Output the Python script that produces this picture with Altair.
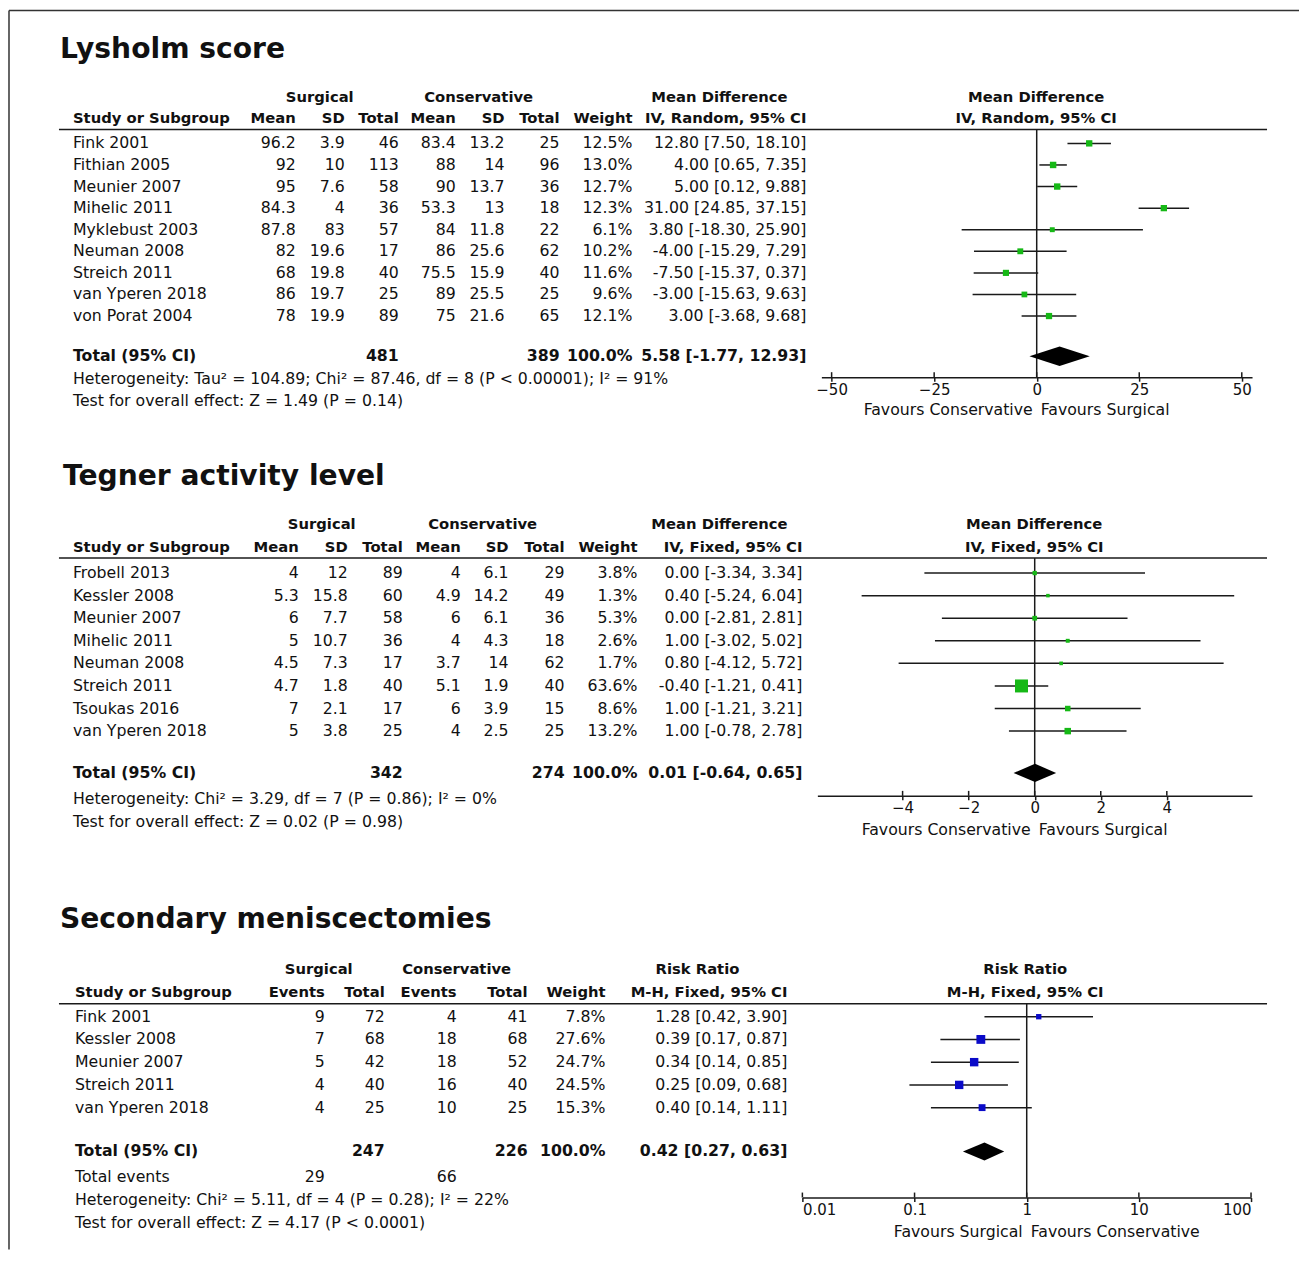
import altair as alt
import pandas as pd

FONT = "DejaVu Sans"
INK = "#111111"
LINE = "#1a1a1a"
GREEN = "#16b816"
BLUE = "#0a0ac8"
W = 1292
ROWFS = 15.75
H1, H2, H3 = 432, 430, 380

# ---------------- Lysholm score ----------------
ly_study = ["Fink 2001", "Fithian 2005", "Meunier 2007", "Mihelic 2011", "Myklebust 2003",
            "Neuman 2008", "Streich 2011", "van Yperen 2018", "von Porat 2004"]
ly_s_mean = ["96.2", "92", "95", "84.3", "87.8", "82", "68", "86", "78"]
ly_s_sd = ["3.9", "10", "7.6", "4", "83", "19.6", "19.8", "19.7", "19.9"]
ly_s_n = ["46", "113", "58", "36", "57", "17", "40", "25", "89"]
ly_c_mean = ["83.4", "88", "90", "53.3", "84", "86", "75.5", "89", "75"]
ly_c_sd = ["13.2", "14", "13.7", "13", "11.8", "25.6", "15.9", "25.5", "21.6"]
ly_c_n = ["25", "96", "36", "18", "22", "62", "40", "25", "65"]
ly_weight = [12.5, 13.0, 12.7, 12.3, 6.1, 10.2, 11.6, 9.6, 12.1]
ly_est = [12.80, 4.00, 5.00, 31.00, 3.80, -4.00, -7.50, -3.00, 3.00]
ly_lo = [7.50, 0.65, 0.12, 24.85, -18.30, -15.29, -15.37, -15.63, -3.68]
ly_hi = [18.10, 7.35, 9.88, 37.15, 25.90, 7.29, 0.37, 9.63, 9.68]
ly_total = [5.58, -1.77, 12.93]
ly_total_n = ["481", "389"]
ly_ticks = [-50, -25, 0, 25, 50]

# ---------------- Tegner activity level ----------------
tg_study = ["Frobell 2013", "Kessler 2008", "Meunier 2007", "Mihelic 2011", "Neuman 2008",
            "Streich 2011", "Tsoukas 2016", "van Yperen 2018"]
tg_s_mean = ["4", "5.3", "6", "5", "4.5", "4.7", "7", "5"]
tg_s_sd = ["12", "15.8", "7.7", "10.7", "7.3", "1.8", "2.1", "3.8"]
tg_s_n = ["89", "60", "58", "36", "17", "40", "17", "25"]
tg_c_mean = ["4", "4.9", "6", "4", "3.7", "5.1", "6", "4"]
tg_c_sd = ["6.1", "14.2", "6.1", "4.3", "14", "1.9", "3.9", "2.5"]
tg_c_n = ["29", "49", "36", "18", "62", "40", "15", "25"]
tg_weight = [3.8, 1.3, 5.3, 2.6, 1.7, 63.6, 8.6, 13.2]
tg_est = [0.00, 0.40, 0.00, 1.00, 0.80, -0.40, 1.00, 1.00]
tg_lo = [-3.34, -5.24, -2.81, -3.02, -4.12, -1.21, -1.21, -0.78]
tg_hi = [3.34, 6.04, 2.81, 5.02, 5.72, 0.41, 3.21, 2.78]
tg_total = [0.01, -0.64, 0.65]
tg_total_n = ["342", "274"]
tg_ticks = [-4, -2, 0, 2, 4]

# ---------------- Secondary meniscectomies ----------------
sm_study = ["Fink 2001", "Kessler 2008", "Meunier 2007", "Streich 2011", "van Yperen 2018"]
sm_s_ev = ["9", "7", "5", "4", "4"]
sm_s_n = ["72", "68", "42", "40", "25"]
sm_c_ev = ["4", "18", "18", "16", "10"]
sm_c_n = ["41", "68", "52", "40", "25"]
sm_weight = [7.8, 27.6, 24.7, 24.5, 15.3]
sm_est = [1.28, 0.39, 0.34, 0.25, 0.40]
sm_lo = [0.42, 0.17, 0.14, 0.09, 0.14]
sm_hi = [3.90, 0.87, 0.85, 0.68, 1.11]
sm_total = [0.42, 0.27, 0.63]
sm_total_n = ["247", "226"]
sm_total_events = ["29", "66"]
sm_ticks = [0.01, 0.1, 1, 10, 100]


def fmt_ci(e, l, h):
    return f"{e:.2f} [{l:.2f}, {h:.2f}]"


def stext(text, x, y, align="left", size=ROWFS, bold=False, baseline="middle"):
    return alt.Chart(pd.DataFrame({"t": [text]})).mark_text(
        align=align, baseline=baseline, font=FONT, fontSize=size,
        fontWeight="bold" if bold else "normal", color=INK
    ).encode(x=alt.value(x), y=alt.value(y), text=alt.Text("t:N"))


def prule(x, x2, y, y2, width=1.5, color=LINE):
    return alt.Chart(pd.DataFrame({"a": [0]})).mark_rule(color=color, strokeWidth=width).encode(
        x=alt.value(x), x2=alt.value(x2), y=alt.value(y), y2=alt.value(y2))


def panel(cfg):
    H = cfg["H"]
    ys = alt.Scale(domain=[0, 10], range=[cfg["row0"], cfg["row0"] + 10 * cfg["step"]],
                   nice=False, zero=False)
    xs = cfg["xscale"]
    ax = alt.Axis(orient="bottom", offset=cfg["axis_y"] - H, values=cfg["ticks"],
                  title="", grid=False, domainColor=LINE, domainWidth=1.5,
                  tickColor=LINE, tickWidth=1.5, tickSize=4, labelFont=FONT,
                  labelFontSize=15, labelColor=INK, labelPadding=1,
                  labelFlush=cfg["flush"], format=cfg["fmt"])

    def Y(f):
        return alt.Y(f, type="quantitative", scale=ys, axis=None)

    def X(f):
        return alt.X(f, type="quantitative", scale=xs, axis=ax)

    n = len(cfg["study"])
    df = pd.DataFrame({"row": list(range(n)), "study": cfg["study"],
                       "w": cfg["weight"], "est": cfg["est"], "lo": cfg["lo"], "hi": cfg["hi"]})
    df["wt"] = [f"{v:.1f}%" for v in cfg["weight"]]
    df["ci"] = [fmt_ci(e, l, h) for e, l, h in zip(cfg["est"], cfg["lo"], cfg["hi"])]
    for i, col in enumerate(cfg["cols"]):
        df[f"c{i}"] = col

    layers = []
    # outer frame (top and left edges) drawn once, in the first panel
    if cfg.get("frame"):
        layers.append(prule(1, W, 2, 2, width=1.5, color="#333"))
        layers.append(prule(1, 1, 2, H1 + H2 + H3, width=1.5, color="#333"))

    # title
    layers.append(stext(cfg["title"], cfg["title_x"], cfg["title_y"], size=28.2, bold=True,
                        baseline="alphabetic"))
    # headers
    for txt, x, al, line in cfg["headers"]:
        y = cfg["h1"] if line == 1 else cfg["h2"]
        layers.append(stext(txt, x, y, align=al, size=14.8, bold=True))
    layers.append(prule(cfg["line_x0"], cfg["line_x1"], cfg["line_y"], cfg["line_y"]))

    # study table
    base = alt.Chart(df)
    txt_kw = dict(baseline="middle", font=FONT, fontSize=ROWFS, color=INK)
    layers.append(base.mark_text(align="left", **txt_kw).encode(
        x=alt.value(cfg["study_x"]), y=Y("row"), text="study:N"))
    for i, cx in enumerate(cfg["col_x"]):
        layers.append(base.mark_text(align="right", **txt_kw).encode(
            x=alt.value(cx), y=Y("row"), text=f"c{i}:N"))
    layers.append(base.mark_text(align="right", **txt_kw).encode(
        x=alt.value(cfg["wt_x"]), y=Y("row"), text="wt:N"))
    layers.append(base.mark_text(align="right", **txt_kw).encode(
        x=alt.value(cfg["ci_x"]), y=Y("row"), text="ci:N"))

    # total row
    tr = cfg["total_row"]
    ty = cfg["row0"] + tr * cfg["step"]
    layers.append(stext("Total (95% CI)", cfg["study_x"], ty, bold=True))
    layers.append(stext(cfg["total_n"][0], cfg["tot_nx"][0], ty, align="right", bold=True))
    layers.append(stext(cfg["total_n"][1], cfg["tot_nx"][1], ty, align="right", bold=True))
    layers.append(stext("100.0%", cfg["wt_x"], ty, align="right", bold=True))
    t = cfg["total"]
    layers.append(stext(fmt_ci(t[0], t[1], t[2]), cfg["ci_x"], ty, align="right", bold=True))

    for txt, y, extra in cfg["notes"]:
        layers.append(stext(txt, cfg["study_x"], y))
        for etxt, ex in extra:
            layers.append(stext(etxt, ex, y, align="right"))

    # forest
    null_df = pd.DataFrame({"x": [cfg["null"]]})
    layers.append(alt.Chart(null_df).mark_rule(color=LINE, strokeWidth=1.5).encode(
        x=X("x"), y=alt.value(cfg["line_y"]), y2=alt.value(cfg["axis_y"])))
    layers.append(base.mark_rule(color=LINE, strokeWidth=1.5).encode(
        x=X("lo"), x2=alt.X2("hi"), y=Y("row")))
    layers.append(base.mark_square(filled=True, opacity=1, color=cfg["color"]).encode(
        x=X("est"), y=Y("row"),
        size=alt.Size("w:Q", scale=alt.Scale(domain=[0, 100], range=[9, cfg["K"]]), legend=None)))
    hh = cfg["dh"]
    dia = pd.DataFrame({"x": [t[1], t[0], t[2]],
                        "yt": [tr, tr - hh, tr], "yb": [tr, tr + hh, tr]})
    layers.append(alt.Chart(dia).mark_area(color="black", opacity=1, orient="vertical").encode(
        x=X("x"), y=Y("yt"), y2=alt.Y2("yb")))
    tick_df = pd.DataFrame({"v": cfg["ticks"]})
    layers.append(alt.Chart(tick_df).mark_rule(color=LINE, strokeWidth=1.5).encode(
        x=X("v"), y=alt.value(cfg["axis_y"] - 5), y2=alt.value(cfg["axis_y"])))
    fav = pd.DataFrame({"x": [cfg["null"]], "l": [cfg["fav"][0]], "r": [cfg["fav"][1]]})
    layers.append(alt.Chart(fav).mark_text(align="right", dx=-4, **txt_kw).encode(
        x=X("x"), y=alt.value(cfg["fav_y"]), text="l:N"))
    layers.append(alt.Chart(fav).mark_text(align="left", dx=4, **txt_kw).encode(
        x=X("x"), y=alt.value(cfg["fav_y"]), text="r:N"))

    return alt.layer(*layers).properties(width=W, height=H)


p1 = panel(dict(
    H=H1, frame=True, title="Lysholm score", title_x=52, title_y=50,
    h1=90, h2=111, line_y=121, line_x0=51, line_x1=1260,
    row0=135, step=21.6, total_row=9.86, dh=0.45,
    study=ly_study, weight=ly_weight, est=ly_est, lo=ly_lo, hi=ly_hi,
    cols=[ly_s_mean, ly_s_sd, ly_s_n, ly_c_mean, ly_c_sd, ly_c_n],
    study_x=65, col_x=[288, 337, 391, 448, 497, 552], wt_x=625, ci_x=799,
    tot_nx=[391, 552], total=ly_total, total_n=ly_total_n,
    headers=[("Surgical", 312, "center", 1), ("Conservative", 471, "center", 1),
             ("Mean Difference", 712, "center", 1), ("Mean Difference", 1029, "center", 1),
             ("Study or Subgroup", 65, "left", 2), ("Mean", 288, "right", 2),
             ("SD", 337, "right", 2), ("Total", 391, "right", 2), ("Mean", 448, "right", 2),
             ("SD", 497, "right", 2), ("Total", 552, "right", 2), ("Weight", 625, "right", 2),
             ("IV, Random, 95% CI", 799, "right", 2), ("IV, Random, 95% CI", 1029, "center", 2)],
    notes=[("Heterogeneity: Tau² = 104.89; Chi² = 87.46, df = 8 (P < 0.00001); I² = 91%", 371, []),
           ("Test for overall effect: Z = 1.49 (P = 0.14)", 393, [])],
    xscale=alt.Scale(domain=[-52.5, 52.5], range=[814, 1245], nice=False, zero=False),
    ticks=ly_ticks, flush=False, fmt="d", axis_y=369, null=0,
    color=GREEN, K=260, fav=["Favours Conservative", "Favours Surgical"], fav_y=402,
))

p2 = panel(dict(
    H=H2, frame=False, title="Tegner activity level", title_x=55, title_y=45,
    h1=85, h2=108, line_y=118, line_x0=51, line_x1=1260,
    row0=133, step=22.6, total_row=8.85, dh=0.4,
    study=tg_study, weight=tg_weight, est=tg_est, lo=tg_lo, hi=tg_hi,
    cols=[tg_s_mean, tg_s_sd, tg_s_n, tg_c_mean, tg_c_sd, tg_c_n],
    study_x=65, col_x=[291, 340, 395, 453, 501, 557], wt_x=630, ci_x=795,
    tot_nx=[395, 557], total=tg_total, total_n=tg_total_n,
    headers=[("Surgical", 314, "center", 1), ("Conservative", 475, "center", 1),
             ("Mean Difference", 712, "center", 1), ("Mean Difference", 1027, "center", 1),
             ("Study or Subgroup", 65, "left", 2), ("Mean", 291, "right", 2),
             ("SD", 340, "right", 2), ("Total", 395, "right", 2), ("Mean", 453, "right", 2),
             ("SD", 501, "right", 2), ("Total", 557, "right", 2), ("Weight", 630, "right", 2),
             ("IV, Fixed, 95% CI", 795, "right", 2), ("IV, Fixed, 95% CI", 1027, "center", 2)],
    notes=[("Heterogeneity: Chi² = 3.29, df = 7 (P = 0.86); I² = 0%", 359, []),
           ("Test for overall effect: Z = 0.02 (P = 0.98)", 382, [])],
    xscale=alt.Scale(domain=[-6.58, 6.58], range=[810, 1245], nice=False, zero=False),
    ticks=tg_ticks, flush=False, fmt="d", axis_y=356, null=0,
    color=GREEN, K=360, fav=["Favours Conservative", "Favours Surgical"], fav_y=390,
))

p3 = panel(dict(
    H=H3, frame=False, title="Secondary meniscectomies", title_x=52, title_y=58,
    h1=100, h2=123, line_y=134, line_x0=51, line_x1=1260,
    row0=147, step=22.75, total_row=5.93, dh=0.4,
    study=sm_study, weight=sm_weight, est=sm_est, lo=sm_lo, hi=sm_hi,
    cols=[sm_s_ev, sm_s_n, sm_c_ev, sm_c_n],
    study_x=67, col_x=[317, 377, 449, 520], wt_x=598, ci_x=780,
    tot_nx=[377, 520], total=sm_total, total_n=sm_total_n,
    headers=[("Surgical", 311, "center", 1), ("Conservative", 449, "center", 1),
             ("Risk Ratio", 690, "center", 1), ("Risk Ratio", 1018, "center", 1),
             ("Study or Subgroup", 67, "left", 2), ("Events", 317, "right", 2),
             ("Total", 377, "right", 2), ("Events", 449, "right", 2), ("Total", 520, "right", 2),
             ("Weight", 598, "right", 2), ("M-H, Fixed, 95% CI", 780, "right", 2),
             ("M-H, Fixed, 95% CI", 1018, "center", 2)],
    notes=[("Total events", 307, [(sm_total_events[0], 317), (sm_total_events[1], 449)]),
           ("Heterogeneity: Chi² = 5.11, df = 4 (P = 0.28); I² = 22%", 330, []),
           ("Test for overall effect: Z = 4.17 (P < 0.0001)", 353, [])],
    xscale=alt.Scale(type="log", domain=[0.01, 100], range=[795, 1244], nice=False),
    ticks=sm_ticks, flush=True, fmt="~g", axis_y=328, null=1,
    color=BLUE, K=360, fav=["Favours Surgical", "Favours Conservative"], fav_y=362,
))

chart = alt.vconcat(p1, p2, p3, spacing=0, bounds="flush").properties(
    padding=0).configure_view(strokeWidth=0)

chart.save("out.html", embed_options={"renderer": "svg", "actions": False})
